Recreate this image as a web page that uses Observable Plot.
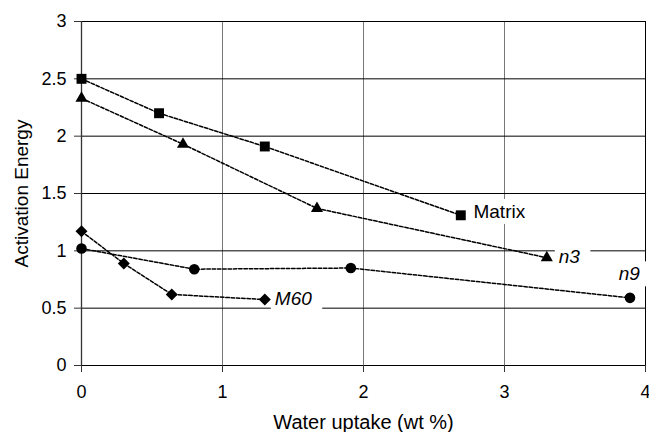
<!DOCTYPE html>
<html><head><meta charset="utf-8">
<script src="https://cdn.jsdelivr.net/npm/d3@7"></script>
<script src="https://cdn.jsdelivr.net/npm/@observablehq/plot@0.6"></script>
<style>html,body{margin:0;padding:0;background:#fff;} #chart{width:649px;height:432px;}</style>
</head><body><div id="chart"></div>
<script>
// ---- data ----
const matrixX = [0, 0.55, 1.3, 2.69];
const matrixY = [2.5, 2.2, 1.91, 1.31];
const n3X = [0, 0.72, 1.67, 3.3];
const n3Y = [2.33, 1.93, 1.37, 0.94];
const n9X = [0, 0.8, 1.91, 3.89];
const n9Y = [1.02, 0.84, 0.85, 0.59];
const m60X = [0, 0.3, 0.64, 1.3];
const m60Y = [1.17, 0.89, 0.62, 0.575];

const seriesNames = ["Matrix", "n3", "n9", "M60"];
const labelX = [2.78, 3.385, 3.81, 1.371];
const labelY = [1.34, 0.947, 0.796, 0.582];

const xTicks = [0, 1, 2, 3, 4];
const xTickLabels = ["0", "1", "2", "3", "4"];
const yTicks = [0, 0.5, 1, 1.5, 2, 2.5, 3];
const yTickLabels = ["0", "0.5", "1", "1.5", "2", "2.5", "3"];
const xTitle = "Water uptake (wt %)";
const yTitle = "Activation Energy";

// ---- build tables ----
const zip = (xs, ys, s) => xs.map((x, i) => ({x, y: ys[i], series: s}));
const matrix = zip(matrixX, matrixY, seriesNames[0]);
const n3 = zip(n3X, n3Y, seriesNames[1]);
const n9 = zip(n9X, n9Y, seriesNames[2]);
const m60 = zip(m60X, m60Y, seriesNames[3]);
const allPts = [...matrix, ...n3, ...n9, ...m60];
const labels = seriesNames.map((name, i) => ({name, x: labelX[i], y: labelY[i]}));

const diamond = {
  draw(ctx, size) {
    const r = Math.sqrt(size) * 0.62625;
    ctx.moveTo(0, -r); ctx.lineTo(r, 0); ctx.lineTo(0, r); ctx.lineTo(-r, 0); ctx.closePath();
  }
};

const font = "'Liberation Sans', Arial, Helvetica, sans-serif";
const dash = "3.5,1.8";

const svg = Plot.plot({
  width: 649,
  height: 432,
  marginLeft: 81,
  marginRight: 4,
  marginTop: 21,
  marginBottom: 67,
  style: {fontFamily: font, fontSize: "18px", background: "#fff", color: "#000", overflow: "visible"},
  x: {domain: [0, 4]},
  y: {domain: [0, 3]},
  marks: [
    Plot.ruleX(xTicks.slice(1, 4), {stroke: "#777", strokeWidth: 1}),
    Plot.ruleY(yTicks.slice(1), {stroke: "#000", strokeWidth: 1}),
    Plot.ruleX(xTicks.slice(4), {stroke: "#000", strokeWidth: 1}),
    Plot.ruleY(yTicks.slice(0, 1), {stroke: "#000", strokeWidth: 1.2}),
    Plot.ruleX(xTicks.slice(0, 1), {stroke: "#333", strokeWidth: 1.3}),
    Plot.axisX(xTicks, {tickFormat: () => "", tickSize: 7, label: null, stroke: "#333", strokeWidth: 1}),
    Plot.axisY(yTicks, {tickFormat: () => "", tickSize: 7, label: null, stroke: "#333", strokeWidth: 1}),
    Plot.text(xTicks, {x: d => d, frameAnchor: "bottom", lineAnchor: "top", textAnchor: "middle", dy: 20, text: (d, i) => xTickLabels[i], fontSize: 18, fill: "#000"}),
    Plot.text(yTicks, {y: d => d, frameAnchor: "left", lineAnchor: "middle", textAnchor: "end", dx: -15, text: (d, i) => yTickLabels[i], fontSize: 18, fill: "#000"}),
    Plot.text(labels.slice(0, 1), {x: "x", y: "y", text: "name", textAnchor: "start", fontSize: 19, fill: "#000", ariaDescription: "series-label"}),
    Plot.text(labels.slice(1), {x: "x", y: "y", text: "name", textAnchor: "start", fontSize: 19, fontStyle: "italic", fill: "#000", ariaDescription: "series-label"}),
    Plot.line(allPts, {x: "x", y: "y", z: "series", stroke: "#000", strokeWidth: 1.5, strokeDasharray: dash}),
    Plot.dot(matrix, {x: "x", y: "y", symbol: "square", r: 5.6, fill: "#000", stroke: "none"}),
    Plot.dot(n3, {x: "x", y: "y", symbol: "triangle", r: 4.5, fill: "#000", stroke: "none"}),
    Plot.dot(n9, {x: "x", y: "y", symbol: "circle", r: 5.3, fill: "#000", stroke: "none"}),
    Plot.dot(m60, {x: "x", y: "y", symbol: diamond, r: 5.4, fill: "#000", stroke: "none"}),
    Plot.text([xTitle], {frameAnchor: "bottom", dy: 57, lineAnchor: "middle", textAnchor: "middle", text: d => d, fontSize: 20, fill: "#000"}),
    Plot.text([yTitle], {frameAnchor: "left", dx: -60, rotate: -90, lineAnchor: "middle", textAnchor: "middle", text: d => d, fontSize: 19, fill: "#000"})
  ]
});
document.getElementById("chart").appendChild(svg);

// white label boxes behind the series labels (sized from the rendered text)
d3.select(svg).selectAll('g[aria-description="series-label"] text').each(function() {
  const b = this.getBBox();
  const rect = document.createElementNS("http://www.w3.org/2000/svg", "rect");
  rect.setAttribute("x", b.x - 4);
  rect.setAttribute("y", b.y - 2);
  rect.setAttribute("width", b.width + 14);
  rect.setAttribute("height", b.height + 4);
  rect.setAttribute("fill", "#fff");
  const t = this.getAttribute("transform");
  if (t) rect.setAttribute("transform", t);
  this.parentNode.insertBefore(rect, this);
});
</script>
</body></html>
